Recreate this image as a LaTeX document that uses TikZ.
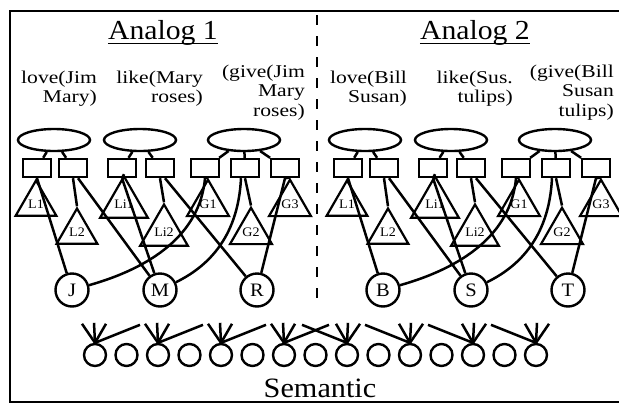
\documentclass[tikz,border=0pt]{standalone}
\usepackage{fontspec}
\setmainfont[FakeStretch=1.08]{Liberation Serif}
\usetikzlibrary{shapes.geometric}
\tikzset{
  prop/.style={ellipse, draw, line width=2.4pt, minimum width=72pt, minimum height=22pt, inner sep=0pt},
  spbox/.style={rectangle, draw, line width=2.4pt, minimum width=28pt, minimum height=18pt, inner sep=0pt},
  role/.style={regular polygon, regular polygon sides=3, draw, line width=2.2pt, minimum size=47pt, inner sep=0pt, font=\fontsize{13}{13}\selectfont},
  obj/.style={circle, draw, line width=2.4pt, minimum size=33pt, inner sep=0pt, font=\fontsize{19}{19}\selectfont},
  sem/.style={circle, draw, line width=2.4pt, minimum size=22pt, inner sep=0pt},
  wire/.style={line width=2.5pt},
  lbl/.style={font=\fontsize{18}{18}\selectfont\addfontfeature{FakeStretch=1.2}, inner sep=0pt, anchor=base east},
  ttl/.style={font=\fontsize{27.5}{27.5}\selectfont, inner sep=0pt, anchor=base},
}
\newcommand{\analoghalf}[5]{%
\begin{scope}[xshift=#2pt]
 \node[prop] (#1E1) at (54,140) {};
 \node[prop] (#1E2) at (140,140) {};
 \node[prop] (#1E3) at (244,140) {};
 \node[spbox] (#1R1) at (37,168) {};
 \node[spbox] (#1R2) at (73,168) {};
 \node[spbox] (#1R3) at (122,168) {};
 \node[spbox] (#1R4) at (160,168) {};
 \node[spbox] (#1R5) at (205,168) {};
 \node[spbox] (#1R6) at (245,168) {};
 \node[spbox] (#1R7) at (285,168) {};
 \node[role] (#1T1) at (36,204) {\raisebox{-3pt}{L1}};
 \node[role] (#1T2) at (77,232) {\raisebox{-3pt}{L2}};
 \node[role] (#1T3) at (124,204) {\raisebox{-3pt}{Li1}};
 \node[role] (#1T4) at (164,232) {\raisebox{-3pt}{Li2}};
 \node[role] (#1T5) at (208,204) {\raisebox{-3pt}{G1}};
 \node[role] (#1T6) at (251,232) {\raisebox{-3pt}{G2}};
 \node[role] (#1T7) at (290,204) {\raisebox{-3pt}{G3}};
 \node[obj] (#1C1) at (72,290) {#3};
 \node[obj] (#1C2) at (160,290) {#4};
 \node[obj] (#1C3) at (257,290) {#5};
 \draw[wire] (#1E1) -- (#1R1);
 \draw[wire] (#1E1) -- (#1R2);
 \draw[wire] (#1E2) -- (#1R3);
 \draw[wire] (#1E2) -- (#1R4);
 \draw[wire] (#1E3) -- (#1R5);
 \draw[wire] (#1E3) -- (#1R6);
 \draw[wire] (#1E3) -- (#1R7);
 \draw[wire] (#1R1.south) -- (#1T1.corner 1);
 \draw[wire] (#1R1.south) -- (#1C1);
 \draw[wire] (#1R2.south) -- (#1T2.corner 1);
 \draw[wire] ([xshift=5pt]#1R2.south) -- (#1C2);
 \draw[wire] (#1R3.south) -- (#1T3.corner 1);
 \draw[wire] (#1R3.south) -- (#1C2);
 \draw[wire] (#1R4.south) -- (#1T4.corner 1);
 \draw[wire] ([xshift=5pt]#1R4.south) -- (#1C3);
 \draw[wire] (#1R5.south) -- (#1T5.corner 1);
 \draw[wire] (#1R5.south) .. controls (200,235) and (150,268) .. (#1C1);
 \draw[wire] (#1R6.south) -- (#1T6.corner 1);
 \draw[wire] ([xshift=-4pt]#1R6.south) .. controls (238,240) and (205,268) .. (#1C2);
 \draw[wire] (#1R7.south) -- (#1T7.corner 1);
 \draw[wire] (#1R7.south) -- (#1C3);
\end{scope}}
\begin{document}
\begin{tikzpicture}[x=1pt,y=-1pt]
\useasboundingbox (0,0) rectangle (619,405);
\clip (0,0) rectangle (619,405);
\fill[white] (0,0) rectangle (619,405);
\draw[line width=2.6pt] (10,11) rectangle (640,402);
\draw[line width=2.6pt, dash pattern=on 10pt off 11pt] (317,15) -- (317,303);
% titles
\node[ttl] (t1) at (163,39) {Analog 1};
\draw[line width=1.8pt] ([yshift=-4.5pt]t1.base west) -- ([yshift=-4.5pt]t1.base east);
\node[ttl] (t2) at (475,39) {Analog 2};
\draw[line width=1.8pt] ([yshift=-4.5pt]t2.base west) -- ([yshift=-4.5pt]t2.base east);
% proposition labels
\node[lbl] (a1) at (97,83) {love(Jim};
\node[lbl] (a2) at (97,102) {Mary)};
\node[lbl] (b1) at (203,83) {like(Mary};
\node[lbl] (b2) at (203,102) {roses)};
\node[lbl] (c1) at (305,77) {(give(Jim};
\node[lbl] (c2) at (305,96.5) {Mary};
\node[lbl] (c3) at (305,116) {roses)};
\node[lbl] (d1) at (407,83) {love(Bill};
\node[lbl] (d2) at (407,102) {Susan)};
\node[lbl] (e1) at (513,83) {like(Sus.};
\node[lbl] (e2) at (513,102) {tulips)};
\node[lbl] (f1) at (614,77) {(give(Bill};
\node[lbl] (f2) at (614,96.5) {Susan};
\node[lbl] (f3) at (614,116) {tulips)};
% the two analogs
\analoghalf{A}{0}{J}{M}{R}
\analoghalf{B}{311}{B}{S}{T}
% semantic units
\foreach \k in {0,...,14} {
  \node[sem] (S\k) at ({95+31.5*\k},355) {};
}
\foreach \k in {0,2,4,6} {
  \draw[wire] (S\k.north) -- ++(-13,-19);
  \draw[wire] (S\k.north) -- ++(-1,-20);
  \draw[wire] (S\k.north) -- ++(11,-19);
  \draw[wire] (S\k.north) -- ++(45,-18);
}
\foreach \k in {8,10,12,14} {
  \draw[wire] (S\k.north) -- ++(13,-19);
  \draw[wire] (S\k.north) -- ++(1,-20);
  \draw[wire] (S\k.north) -- ++(-11,-19);
  \draw[wire] (S\k.north) -- ++(-45,-18);
}
\node[font=\fontsize{28}{28}\selectfont, inner sep=0pt, anchor=base] (semlbl) at (320,397) {Semantic};
\end{tikzpicture}
\end{document}
